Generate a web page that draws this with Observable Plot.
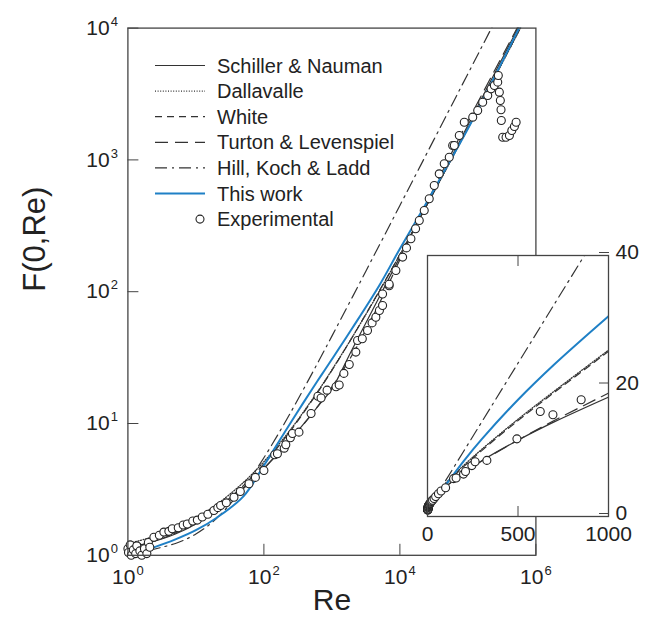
<!DOCTYPE html>
<html><head><meta charset="utf-8">
<script src="https://cdn.jsdelivr.net/npm/d3@7"></script>
<script src="https://cdn.jsdelivr.net/npm/@observablehq/plot@0.6"></script>
<style>
body{margin:0;background:#fff;}
#wrap{position:relative;width:650px;height:634px;font-family:"Liberation Sans",Arial,sans-serif;}
#wrap > svg{position:absolute;}
</style></head><body><div id="wrap"></div>
<script>
// ---------------- data ----------------
const reGrid = [1,2,5,10,20,50,100,200,300,500,700,1000,2000,5000,1e4,2e4,5e4,1e5,2e5,5e5,1e6];
const schiller   = [1.15,1.24,1.45,1.73,2.17,3.21,4.55,6.71,8.55,11.7,14.5,18.3,36.7,91.7,183,367,917,1833,3667,9167,18333];
const dallavalle = [1.23,1.35,1.61,1.92,2.42,3.57,5.13,7.83,10.3,14.9,19.2,25.5,45.3,101,191,367,884,1734,3421,8448,16790];
const white      = [1.14,1.24,1.47,1.77,2.25,3.38,4.94,7.64,10.1,14.7,19.0,25.3,45.3,102,192,369,890,1746,3446,8511,16917];
const turton     = [1.17,1.27,1.50,1.79,2.24,3.27,4.58,6.69,8.49,11.7,14.7,18.9,33.3,81.8,175,375,978,1962,3878,9479,18643];
const hillKochLadd = [null,1.09,1.23,1.45,1.9,3.25,5.5,10,14.5,23.5,32.5,46,91,226,451,901,2251,4501,9001,22501,45001];
const thisWork   = [null,1.11,1.32,1.55,1.92,2.8,4.8,8.5,11.85,17.9,23.3,30.7,53,112,212,392,905,1720,3450,8800,17800];

const seriesNames = ["Schiller & Nauman","Dallavalle","White","Turton & Levenspiel","Hill, Koch & Ladd","This work"];
const seriesValues = [schiller, dallavalle, white, turton, hillKochLadd, thisWork];
const seriesDash = ["none","1,1.6","7,5","13,7","12,5,2,5","none"];
const seriesColor = ["#333","#333","#333","#333","#333","#1f80c6"];
const seriesWidth = [1.2,1.3,1.2,1.2,1.2,2];

const expRe = [1.0,1.02,1.08,1.12,1.2,1.3,1.35,1.5,1.6,1.75,1.9,2.0,2.1,
  2.41,2.9,3.38,4.0,4.49,5.5,6.5,7.47,9,10.5,12.4,15,18.4,21,23.1,28,36.3,45,60.4,75,
  100,144,158,199,210,245,263,328,494,623,693,849,
  1150,1280,1500,1800,2250,2383,2800,3340,3900,4430,5000,5560,5560,6950,6950,8730,10970,12500,14520,17000,19270,22800,27000,32000,37900,44900,53200,59700,63100,74700,88500,
  117800,139400,165000,195800,219000,245000,274600,280000,290000,300000,307000,310000,325000,364000,408000,442000,483000,512000];
const expF = [1.12,1.05,1.2,1.0,1.1,1.03,1.18,1.08,1.0,1.12,1.03,1.25,1.15,
  1.37,1.42,1.50,1.52,1.59,1.62,1.7,1.73,1.82,1.85,1.95,2.05,2.19,2.3,2.39,2.5,2.76,3.05,3.49,3.9,
  4.4,5.8,5.9,6.5,6.9,7.8,8.4,8.6,11.9,16.1,15.6,17.9,
  19.0,19.6,24,28,34.8,42.6,44,50.8,58,64,72,78.5,96,111,114,145,183,215,252,300,347,413,507,640,784,934,1048,1285,1285,1531,1932,
  2110,2370,2740,3080,3460,3670,3890,4370,3265,2825,2400,1990,1487,1487,1531,1670,1792,1932];

const yTicks = [1,10,100,1000,10000];
const xTicks = [1,100,1e4,1e6];
const insetXTicks = [0,500,1000];
const insetYTicks = [0,20,40];

// ---------------- tables ----------------
const rows = [];
seriesNames.forEach((name,i) => seriesValues[i].forEach((v,j) => { if (v != null) rows.push({series:name, i, Re:reGrid[j], F:v}); }));
const exp = expRe.map((r,k) => ({Re:r, F:expF[k]}));

const font = '"Liberation Sans", Arial, sans-serif';
const ink = "#222";
const lineMarks = (data) => seriesNames.map((name,i) => Plot.line(data.filter(d => d.i === i), {
  x:"Re", y:"F", stroke: seriesColor[i], strokeWidth: seriesWidth[i],
  strokeDasharray: seriesDash[i] === "none" ? null : seriesDash[i], curve:"catmull-rom", clip:true
}));

// ---------------- main plot ----------------
const main = Plot.plot({
  width:650, height:634,
  marginLeft:127.4, marginRight:114.6, marginTop:27.6, marginBottom:79.2,
  x:{type:"log", domain:[1,1e6]},
  y:{type:"log", domain:[1,1e4]},
  style:{fontFamily:font, fontSize:"21px", color:ink, background:"transparent", overflow:"visible"},
  marks:[
    Plot.axisY({ticks:yTicks, tickSize:-11, tickPadding:21, tickFormat:d => "10^" + Math.round(Math.log10(d)), label:null, stroke:"#444"}),
    Plot.axisX({ticks:xTicks, tickSize:-11, tickPadding:25, tickFormat:d => "10^" + Math.round(Math.log10(d)), label:null, stroke:"#444"}),
    ...lineMarks(rows),
    Plot.dot(exp, {x:"Re", y:"F", r:4, stroke:ink, strokeWidth:1.1, fill:"white"}),
    Plot.frame({stroke:"#444", strokeWidth:1.3}),
    Plot.text(["F(0,Re)"], {frameAnchor:"left", dx:-93, rotate:-90, fontSize:31, fill:ink}),
    Plot.text(["Re"], {frameAnchor:"bottom", dy:55, fontSize:30, fill:ink})
  ]
});

// superscript exponents
function supify(svg){
  const ns = "http://www.w3.org/2000/svg";
  svg.querySelectorAll('g[aria-label="y-axis tick label"] text, g[aria-label="x-axis tick label"] text').forEach(t => {
    const m = t.textContent.match(/^10\^(\d+)$/);
    if (!m) return;
    t.textContent = "";
    const a = document.createElementNS(ns,"tspan"); a.textContent = "10";
    const b = document.createElementNS(ns,"tspan"); b.textContent = m[1];
    b.setAttribute("font-size","13"); b.setAttribute("dy","-9"); b.setAttribute("dx","1");
    t.append(a,b);
  });
}
supify(main);

// legend
const lg = d3.select(main).append("g").attr("font-family", font).attr("font-size", 20)
  .attr("fill", ink).attr("text-anchor", "start");
const legendNames = [...seriesNames, "Experimental"];
legendNames.forEach((name,i) => {
  const y = 65.5 + i*25.6;
  if (i < seriesNames.length) {
    lg.append("line").attr("x1",155).attr("x2",205).attr("y1",y).attr("y2",y)
      .attr("stroke", seriesColor[i]).attr("stroke-width", seriesWidth[i])
      .attr("stroke-dasharray", seriesDash[i] === "none" ? null : seriesDash[i]);
  } else {
    lg.append("circle").attr("cx",200).attr("cy",y).attr("r",4).attr("fill","white").attr("stroke",ink).attr("stroke-width",1.1);
  }
  lg.append("text").attr("x",217).attr("y",y).attr("dy","0.35em").attr("text-anchor","start").text(name);
});

main.style.left = "0px"; main.style.top = "0px";
document.getElementById("wrap").append(main);

// ---------------- inset ----------------
const insetRows = rows.filter(d => d.Re >= 100 && d.Re <= 1000);
const insetExp = exp.filter(d => d.Re <= 1000);
const inset = Plot.plot({
  width:236, height:300,
  marginLeft:5, marginRight:50, marginTop:5, marginBottom:34,
  x:{domain:[0,1000]}, y:{domain:[0,40]},
  style:{fontFamily:font, fontSize:"21px", color:ink, background:"transparent", overflow:"visible"},
  marks:[
    Plot.frame({fill:"white", stroke:"none"}),
    ...lineMarks(insetRows),
    Plot.dot(insetExp, {x:"Re", y:"F", r:4, stroke:ink, strokeWidth:1.1, fill:"white"}),
    Plot.axisX({ticks:insetXTicks, tickSize:-10, tickPadding:20, tickFormat:d => String(d), label:null, stroke:"#444"}),
    Plot.axisX({anchor:"top", ticks:[500], tickSize:-10, tickFormat:() => "", label:null, stroke:"#444"}),
    Plot.axisY({anchor:"right", ticks:insetYTicks, tickSize:-10, tickPadding:17, tickFormat:d => String(d), label:null, stroke:"#444", dy:-3}),
    Plot.frame({stroke:"#444", strokeWidth:1.3})
  ]
});
inset.style.left = "422.3px"; inset.style.top = "250px";
document.getElementById("wrap").append(inset);
</script>
</body></html>
